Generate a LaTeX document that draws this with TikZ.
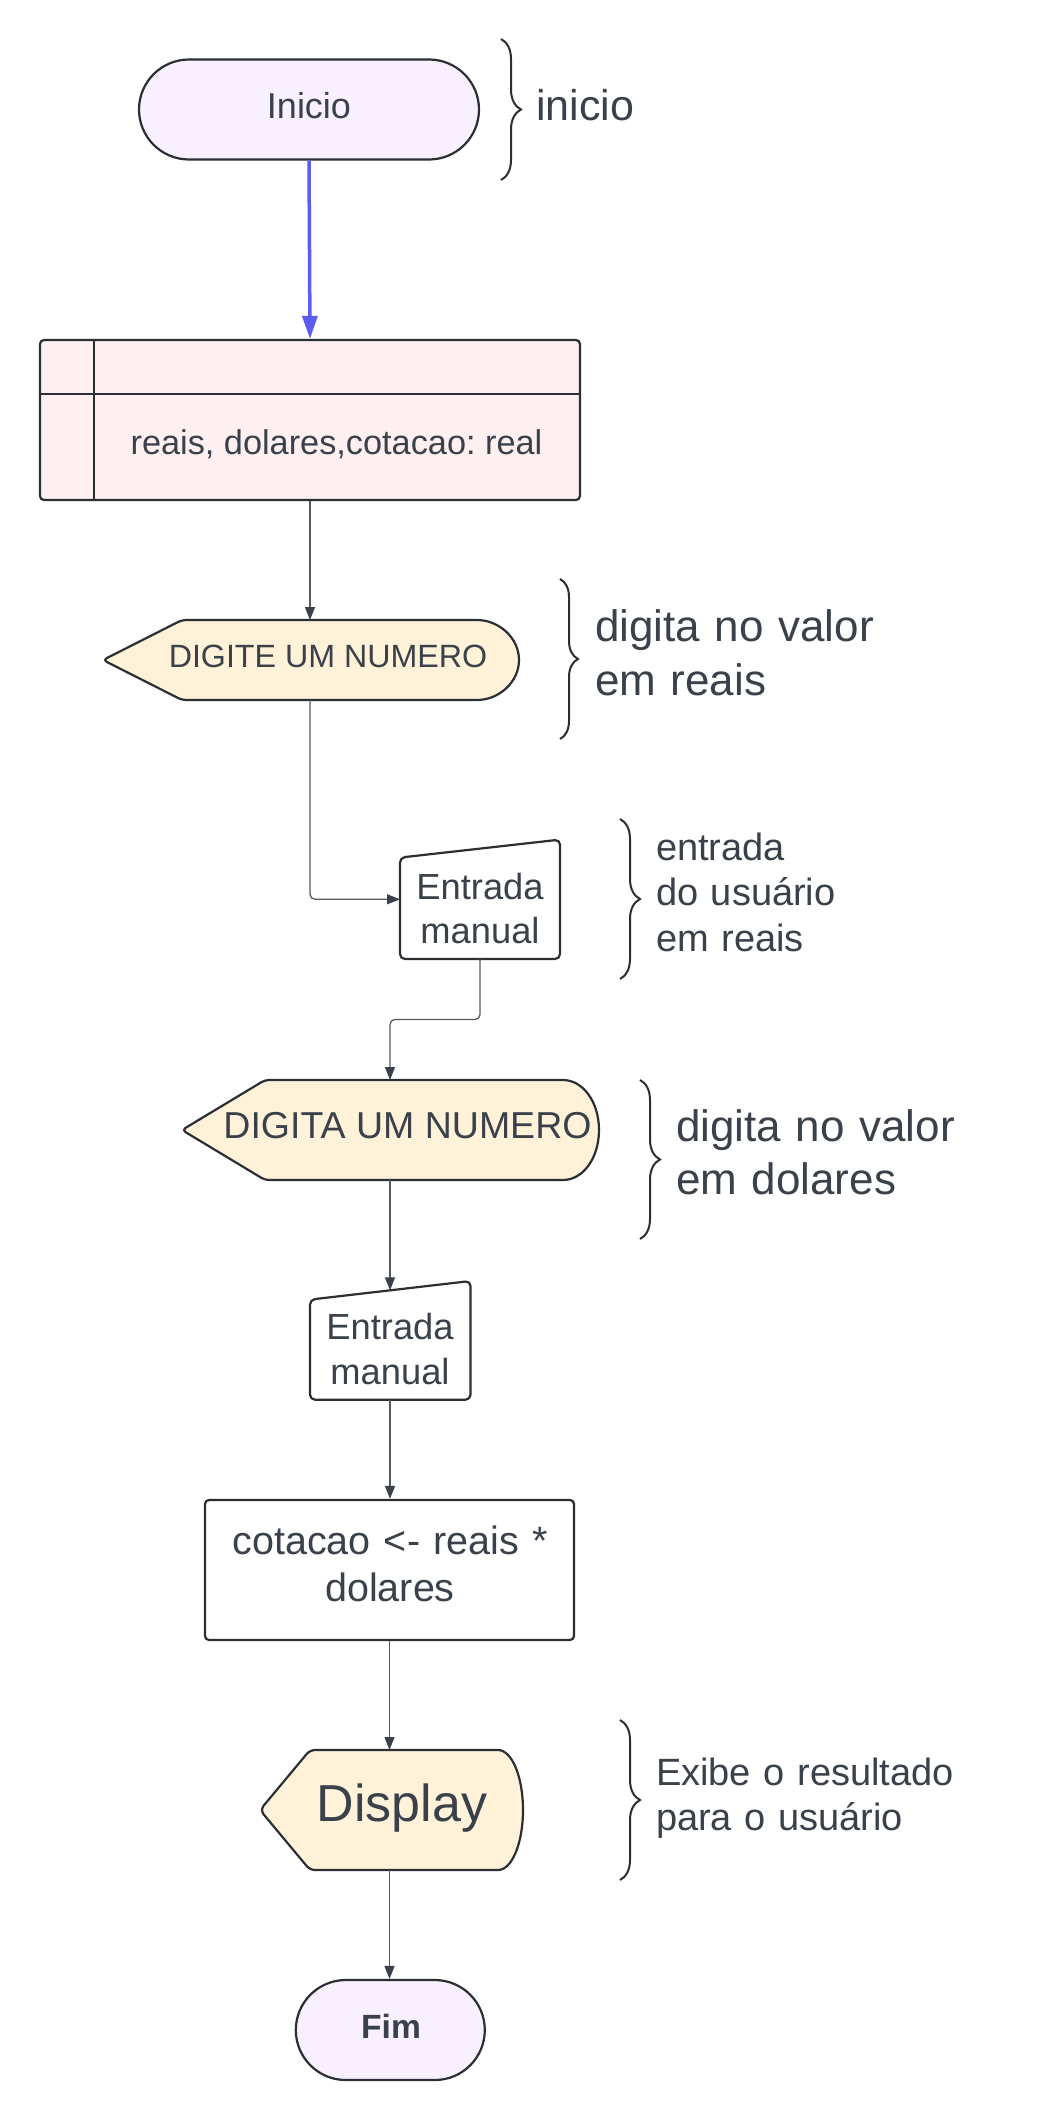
\documentclass[tikz,border=0pt]{standalone}
\usepackage{fontspec}
\setmainfont{Liberation Sans}
\usetikzlibrary{arrows.meta,shapes.misc,decorations.pathreplacing,calc}
\definecolor{txtc}{RGB}{58,65,74}
\definecolor{strokec}{RGB}{43,46,51}
\definecolor{connc}{RGB}{85,90,97}
\definecolor{arrc}{RGB}{58,65,74}
\definecolor{lavc}{RGB}{249,240,255}
\definecolor{pinkc}{RGB}{254,240,240}
\definecolor{creamc}{RGB}{255,242,217}
\definecolor{bluec}{RGB}{94,92,240}
\newcommand{\myfs}[2]{\fontsize{#1}{#2}\selectfont}
\frenchspacing
\tikzset{
  frame/.style={inner sep=0pt, outer sep=0pt, draw=none},
  shp/.style={draw=strokec, line width=2.2pt, line join=round},
  txt/.style={text=txtc, inner sep=0pt, outer sep=0pt},
  conn/.style={draw=connc, line width=1.3pt, -{Triangle[length=13pt,width=10pt,color=arrc]}},
  brc/.style={draw=strokec, line width=2pt, decorate, decoration={brace, amplitude=20pt, aspect=0.5}}
}
\begin{document}
\begin{tikzpicture}[x=1pt,y=-1pt]
\useasboundingbox[fill=white] (0,0) rectangle (1040,2120);

% ---------- Inicio ----------
\node[shp, rounded rectangle, fill=lavc, minimum width=340pt, minimum height=100pt, inner sep=0pt] (ini) at (309,109.5) {};
\node[txt, font=\myfs{36}{43}, anchor=base] (tini) at (309,118.3) {Inicio};
\coordinate (b1s) at (501,39);
\coordinate (b1e) at (501,180);
\draw[brc] (b1s) -- (b1e);
\node[txt, font=\myfs{43}{51}, anchor=base west] (lini) at (536,120.4) {inicio};

% ---------- table ----------
\node[shp, rectangle, rounded corners=4pt, fill=pinkc, minimum width=540pt, minimum height=160pt, inner sep=0pt] (tab) at (310,420) {};
\draw[shp, line width=2pt] (40,393.5) -- (580,393.5);
\draw[shp, line width=2pt] (93.5,340) -- (93.5,500);
\node[txt, font=\myfs{34.3}{41}, anchor=base] (ttab) at (336.5,454.4) {reais, dolares,cotacao: real};

% ---------- DIGITE UM NUMERO ----------
\node[frame, minimum width=416pt, minimum height=80pt] (d1) at (311,660) {};
\draw[shp, fill=creamc] (250,700) [rounded corners=4pt] -- (182,700) -- (103,660) -- (182,620) -- (250,620) [sharp corners] -- (477,620)
  .. controls (499,620) and (519,638) .. (519,660) .. controls (519,682) and (499,700) .. (477,700) -- cycle;
\node[txt, font=\myfs{32.2}{39}, anchor=base] (td1) at (328,667.3) {DIGITE UM NUMERO};
\coordinate (b2s) at (560,579);
\coordinate (b2e) at (560,739);
\draw[brc, decoration={amplitude=18pt}] (b2s) -- (b2e);
\node[txt, font=\myfs{44}{54}, anchor=base west, text width=420pt, align=left] (ld1) at (595,641) {digita no valor\\em reais};

% ---------- Entrada manual 1 ----------
\node[frame, minimum width=160pt, minimum height=119.4pt] (e1) at (480,899.3) {};
\draw[shp, fill=white, rounded corners=5pt] (400,959) -- (400,857.6) -- (560,839.6) -- (560,959) -- cycle;
\node[txt, font=\myfs{36.3}{44}, anchor=base, text width=200pt, align=center] (te1) at (480,899.7) {Entrada\\manual};
\coordinate (b3s) at (620,819);
\coordinate (b3e) at (620,979);
\draw[brc] (b3s) -- (b3e);
\node[txt, font=\myfs{38}{45.5}, anchor=base west, text width=380pt, align=left] (le1) at (656,860) {entrada\\do usuário\\em reais};

% ---------- DIGITA UM NUMERO ----------
\node[frame, minimum width=417pt, minimum height=100pt] (d2) at (390,1130) {};
\draw[shp, fill=creamc] (320,1180) [rounded corners=4pt] -- (265,1180) -- (182,1130) -- (265,1080) -- (320,1080) [sharp corners] -- (563,1080)
  .. controls (583,1080) and (599,1102) .. (599,1130) .. controls (599,1158) and (583,1180) .. (563,1180) -- cycle;
\node[txt, font=\myfs{37.5}{45}, anchor=base] (td2) at (407.5,1138) {DIGITA UM NUMERO};
\coordinate (b4s) at (640,1080);
\coordinate (b4e) at (640,1239);
\draw[brc] (b4s) -- (b4e);
\node[txt, font=\myfs{44}{53}, anchor=base west, text width=360pt, align=left] (ld2) at (676,1141) {digita no valor\\em dolares};

% ---------- Entrada manual 2 ----------
\node[frame, minimum width=160.5pt, minimum height=118.7pt] (e2) at (390,1340.35) {};
\coordinate (e2top) at (390,1290.3);
\draw[shp, fill=white, rounded corners=5pt] (310,1399.7) -- (310,1299.6) -- (470.5,1281) -- (470.5,1399.7) -- cycle;
\node[txt, font=\myfs{36.3}{44.5}, anchor=base, text width=200pt, align=center] (te2) at (390,1339.8) {Entrada\\manual};

% ---------- process ----------
\node[shp, rectangle, rounded corners=4pt, fill=white, minimum width=369pt, minimum height=140pt, inner sep=0pt] (proc) at (389.5,1570) {};
\node[txt, font=\myfs{39.5}{47}, anchor=base, text width=360pt, align=center] (tproc) at (390,1554.4) {cotacao <- reais *\\dolares};

% ---------- Display ----------
\node[frame, minimum width=263pt, minimum height=120pt] (disp) at (391.5,1810) {};
\draw[shp, fill=creamc] (360,1870) [rounded corners=5pt] -- (310,1870) -- (260,1810) -- (310,1750) -- (360,1750) [sharp corners] -- (498,1750)
  .. controls (512,1750) and (523,1777) .. (523,1810) .. controls (523,1843) and (512,1870) .. (498,1870) -- cycle;
\node[txt, font=\myfs{52}{60}, anchor=base] (tdisp) at (402,1821.4) {Display};
\coordinate (b5s) at (620,1720);
\coordinate (b5e) at (620,1880);
\draw[brc] (b5s) -- (b5e);
\node[txt, font=\myfs{38}{45}, anchor=base west, text width=380pt, align=left] (ldisp) at (656,1785) {Exibe o resultado\\para o usuário};

% ---------- Fim ----------
\node[shp, rounded rectangle, fill=lavc, minimum width=189pt, minimum height=100pt, inner sep=0pt] (fim) at (390.3,2030) {};
\node[txt, font=\myfs{33.6}{40}\bfseries, anchor=base] (tfim) at (391,2038.6) {Fim};

% ---------- connectors ----------
\draw[draw=bluec, line width=3.5pt, -{Triangle[length=23pt,width=15pt]}] (ini.south) -- (tab.north);
\draw[conn] (tab.south) -- (tab.south |- d1.north);
\draw[conn, rounded corners=5pt] (tab.south |- d1.south) |- (e1.west);
\draw[conn, rounded corners=5pt] (e1.south) |- ($(e1.south)!0.5!(d2.north)$) -| (d2.north);
\draw[conn] (d2.south) -- (e2top);
\draw[conn] (e2.south) -- (e2.south |- proc.north);
\draw[conn] (proc.south) -- (proc.south |- disp.north);
\draw[conn] (proc.south |- disp.south) -- (proc.south |- fim.north);
\end{tikzpicture}
\end{document}
